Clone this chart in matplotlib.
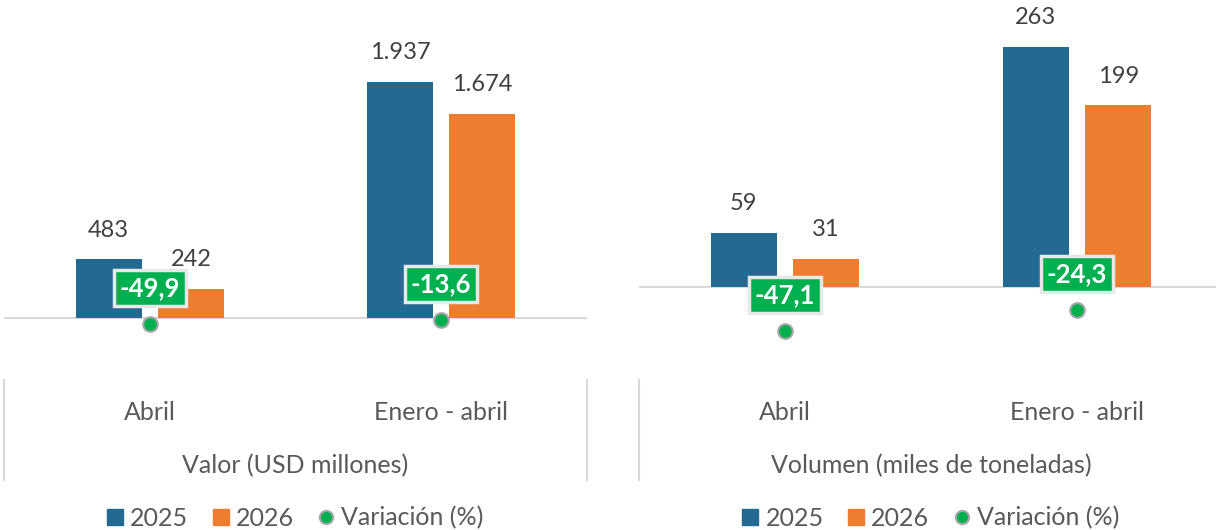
import matplotlib
matplotlib.use("Agg")
import matplotlib.pyplot as plt
from matplotlib.lines import Line2D
import numpy as np

plt.rcParams['font.family'] = ['Lato', 'DejaVu Sans']

categories = ["Abril", "Enero - abril"]
valor_2025 = [483, 1937]
valor_2026 = [242, 1674]
valor_var = [-49.9, -13.6]
volumen_2025 = [59, 263]
volumen_2026 = [31, 199]
volumen_var = [-47.1, -24.3]
group_labels = ["Valor (USD millones)", "Volumen (miles de toneladas)"]

C25 = "#236A93"
C26 = "#ED7D31"
CVAR = "#00B050"
TXT = "#404040"
LBL = "#595959"
GRID = "#d9d9d9"

W, H = 1216, 530
fig = plt.figure(figsize=(W / 100, H / 100), dpi=100)


def fmt(v):
    return f"{v:,.0f}".replace(",", ".")


def panel(x0, x1, v25, v26, var, ylim, ylim2, title, right_sep=True):
    # main plot area: from top of figure down to pixel 370
    ax = fig.add_axes([x0 / W, (H - 370) / H, (x1 - x0) / W, 370 / H])
    x = np.arange(len(categories))
    bw = 0.226
    off = 0.141
    ax.bar(x - off, v25, bw, color=C25)
    ax.bar(x + off, v26, bw, color=C26)
    for xi, a, b in zip(x, v25, v26):
        ax.annotate(fmt(a), (xi - off, a), xytext=(0, 21), textcoords="offset points",
                    ha="center", va="center", fontsize=17, color=TXT)
        ax.annotate(fmt(b), (xi + off, b), xytext=(0, 21), textcoords="offset points",
                    ha="center", va="center", fontsize=17, color=TXT)
    ax.axhline(0, color=GRID, lw=1.5, zorder=0)
    ax.set_xlim(-0.5, 1.5)
    ax.set_ylim(*ylim)
    ax.axis("off")

    ax2 = ax.twinx()
    ax2.plot(x, var, "o", ms=10.5, color=CVAR, mec="#a6a6a6", mew=1.5, zorder=5)
    for xi, v in zip(x, var):
        ax2.annotate(f"{v:.1f}".replace(".", ","), (xi, v), xytext=(0, 26),
                     textcoords="offset points", ha="center", va="center",
                     fontsize=18.5, fontweight="bold", color="white",
                     bbox=dict(boxstyle="square,pad=0.22", fc=CVAR, ec="#e8e8e8", lw=2.5))
    ax2.set_ylim(*ylim2)
    ax2.set_xlim(-0.5, 1.5)
    ax2.axis("off")

    # category area with separators
    axl = fig.add_axes([x0 / W, (H - 480) / H, (x1 - x0) / W, 100 / H])
    axl.set_xlim(-0.5, 1.5)
    axl.set_ylim(0, 1)
    axl.set_xticks([])
    axl.set_yticks([])
    for s in ["top", "bottom"]:
        axl.spines[s].set_visible(False)
    for s in ["left", "right"]:
        axl.spines[s].set_color(GRID)
        axl.spines[s].set_linewidth(1.5)
    axl.spines["right"].set_visible(right_sep)
    for xi, c in zip(x, categories):
        axl.text(xi, 0.67, c, ha="center", va="center", fontsize=18, color=LBL)
    axl.text(0.5, 0.14, title, ha="center", va="center", fontsize=18, color=LBL)

    handles = [
        Line2D([], [], ls="none", marker="s", ms=11, color=C25, label="2025"),
        Line2D([], [], ls="none", marker="s", ms=11, color=C26, label="2026"),
        Line2D([], [], ls="none", marker="o", ms=9.5, color=CVAR, mec="#a6a6a6", mew=1.5,
               label="Variación (%)"),
    ]
    axl.legend(handles=handles, loc="center", bbox_to_anchor=(0.5, -0.38), ncol=3,
               frameon=False, fontsize=18, handletextpad=0.3, columnspacing=1.0,
               handlelength=0.6, labelcolor=LBL)


panel(4, 587, valor_2025, valor_2026, valor_var, (-427, 2611), (-468, 2895), group_labels[0])
panel(639, 1223, volumen_2025, volumen_2026, volumen_var, (-91, 314.5), (-89.5, 312.7),
      group_labels[1], right_sep=False)

fig.savefig("out.png", dpi=100)
